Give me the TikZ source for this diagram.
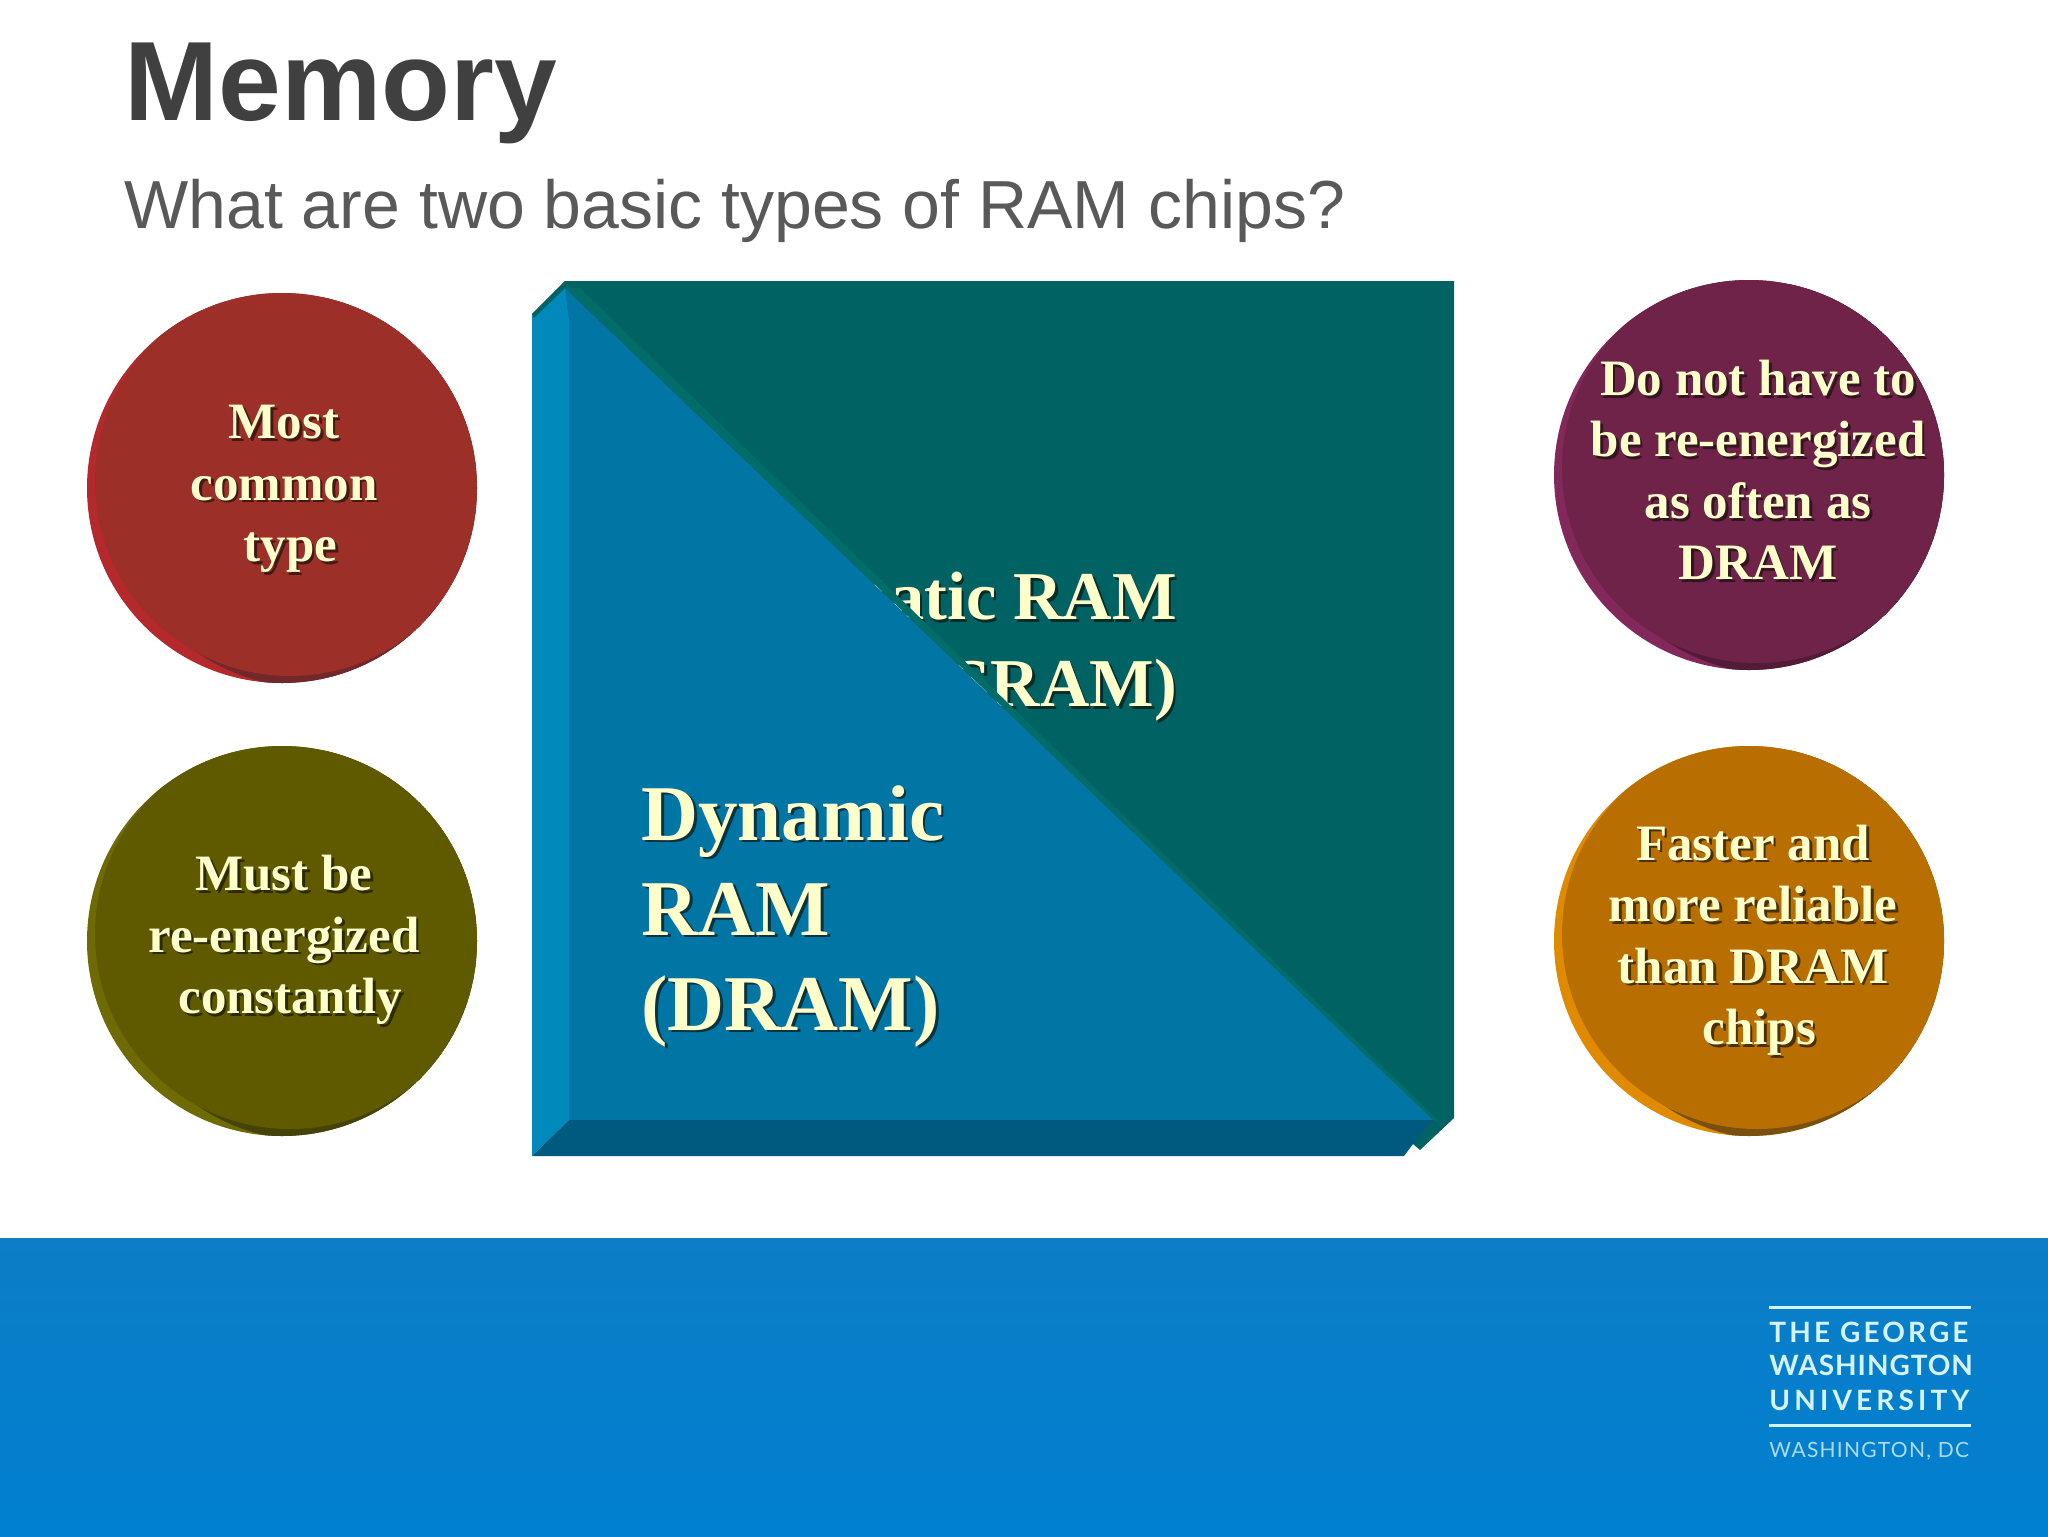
\documentclass[tikz,border=0pt]{standalone}
\usepackage{fontspec}
\setmainfont{Liberation Serif}
\newfontfamily\headfont{Liberation Sans}
\newfontfamily\logofont{Lato}

\definecolor{cream}{HTML}{FFFFCC}
\definecolor{txtshadow}{HTML}{10100A}
\definecolor{panelblue}{HTML}{0175A3}
\definecolor{panelleft}{HTML}{0089BA}
\definecolor{panelbottom}{HTML}{005A80}
\definecolor{panelteal}{HTML}{016264}
\definecolor{panelstrip}{HTML}{016C68}
\definecolor{footertop}{HTML}{0C7DC6}
\definecolor{footerbottom}{HTML}{0080D0}
\definecolor{logoblue}{HTML}{D5F3FF}
\definecolor{redface}{HTML}{9C2F27}
\definecolor{redlight}{HTML}{B42A2C}
\definecolor{redrim}{HTML}{70282A}
\definecolor{oliveface}{HTML}{5F5A00}
\definecolor{olivelight}{HTML}{6E6A04}
\definecolor{oliverim}{HTML}{45420A}
\definecolor{purpleface}{HTML}{6F2349}
\definecolor{purplelight}{HTML}{82285A}
\definecolor{purplerim}{HTML}{521C38}
\definecolor{orangeface}{HTML}{B86E00}
\definecolor{orangelight}{HTML}{E08A00}
\definecolor{orangerim}{HTML}{7A5010}

\tikzset{
  discfont/.style={font=\fontsize{25.5}{30.75}\selectfont\bfseries, align=center},
  dramfont/.style={font=\fontsize{39.5}{47.5}\selectfont\bfseries, align=left},
  sramfont/.style={font=\fontsize{34.2}{43.5}\selectfont\bfseries, align=right},
  logotext/.style={text=logoblue, anchor=base west, inner sep=0pt},
  logoline/.style={logoblue, line width=1.5pt},
}

% a node and its drop shadow: name, position, style, text
\newcommand{\shadowtext}[4]{
  \node[#3, text=txtshadow, text opacity=0.65, xshift=1.3pt, yshift=-1.3pt] at (#2) {#4};
  \node[#3, text=cream] (#1) at (#2) {#4};
}

% a disc with a light and a dark rim: centre, face, light, dark
\newcommand{\raiseddisc}[4]{
  \begin{scope}
    \clip (#1) circle [radius=195];
    \fill[#3] (#1) circle [radius=195];
    \fill[#4] ($(#1)+(26,4)$) circle [radius=195];
    \fill[#2] ($(#1)+(8,-7)$) circle [radius=195];
  \end{scope}
}

\usetikzlibrary{calc}

\begin{document}
\begin{tikzpicture}[x=0.5pt,y=-0.5pt]
  \path[use as bounding box, fill=white] (0,0) rectangle (2048,1536);

  % footer band
  \shade[top color=footertop, bottom color=footerbottom] (0,1238) rectangle (2048,1536);

  % title
  \node[font=\headfont\fontsize{56.4}{56}\selectfont\bfseries, text=black!75, anchor=base west, inner sep=0pt]
    (title) at (124,120) {Memory};
  \node[font=\headfont\fontsize{34}{34}\selectfont, text=black!65, anchor=base west, inner sep=0pt]
    (subtitle) at (124,228) {What are two basic types of RAM chips?};

  % panel
  \fill[panelteal] (565,281) -- (1454,281) -- (1454,1118) -- (1420,1150) -- (1413,1144) -- (532,314) -- cycle;
  \shadowtext{sram}{1184,647}{sramfont, anchor=east}{Static RAM\\(SRAM)}
  \fill[panelstrip] (566,288) -- (580,288) -- (1440,1122) -- (1433,1120) -- cycle;
  \fill[panelblue] (569,320) -- (565,288) -- (1433,1120) -- (569,1120) -- cycle;
  \fill[panelleft] (532,314) -- (565,288) -- (569,320) -- (569,1120) -- (532,1156) -- cycle;
  \fill[panelbottom] (569,1120) -- (1433,1120) -- (1413,1144) -- (1404,1156) -- (532,1156) -- cycle;
  \fill[panelteal] (532,314) -- (565,281) -- (565,288) -- (534,318) -- cycle;
  \shadowtext{dram}{641,916}{dramfont, anchor=west, inner sep=0pt}{Dynamic\\RAM\\(DRAM)}

  % discs
  \raiseddisc{282,488}{redface}{redlight}{redrim}
  \raiseddisc{282,941}{oliveface}{olivelight}{oliverim}
  \raiseddisc{1749,475}{purpleface}{purplelight}{purplerim}
  \raiseddisc{1749,941}{orangeface}{orangelight}{orangerim}

  \shadowtext{common}{284,489}{discfont}{Most\\common\\\hspace*{.25em}type}
  \shadowtext{energy}{284,940}{discfont}{Must be\\re-energized\\\hspace*{.25em}constantly}
  \shadowtext{often}{1758,470}{discfont}{Do not have to\\be re-energized\\as often as\\DRAM}
  \shadowtext{faster}{1753,940}{discfont}{Faster and\\more reliable\\than DRAM\\\hspace*{.25em}chips}

  % logo
  \draw[logoline] (1769,1307) -- (1971,1307);
  \draw[logoline] (1769,1425) -- (1971,1425);
  \node[logotext, font=\logofont\addfontfeatures{LetterSpace=11.2}\fontsize{14}{14}\selectfont\bfseries] (logoa) at (1769,1342) {THE GEORGE};
  \node[logotext, font=\logofont\addfontfeatures{LetterSpace=3.4}\fontsize{14}{14}\selectfont\bfseries] (logob) at (1769,1375) {WASHINGTON};
  \node[logotext, font=\logofont\addfontfeatures{LetterSpace=14.8}\fontsize{14}{14}\selectfont\bfseries] (logoc) at (1769,1410) {UNIVERSITY};
  \node[logotext, text opacity=0.8, font=\logofont\addfontfeatures{LetterSpace=6}\fontsize{10.5}{11}\selectfont] (logod) at (1769,1457) {WASHINGTON, DC};
\end{tikzpicture}
\end{document}
